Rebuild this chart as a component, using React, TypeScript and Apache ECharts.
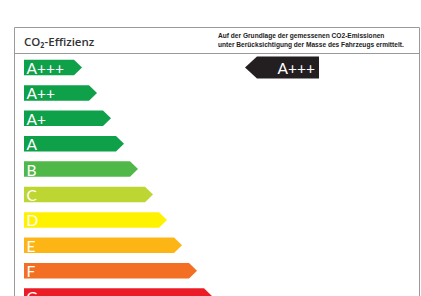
import React, { useEffect, useRef } from "react";
import * as echarts from "echarts";

const classes = ["A+++", "A++", "A+", "A", "B", "C", "D", "E", "F", "G"];
const arrowLengths = [58, 73, 87, 100, 114, 129, 143, 158, 173, 188];
const classColors = [
  "#0fa04a", "#0fa04a", "#0fa04a", "#0fa04a", "#4fb848",
  "#bdd631", "#fff200", "#fdb515", "#f26f23", "#ec1c27",
];
const vehicleClass = "A+++";
const titleText = "CO₂-Effizienz";
const noteLines = [
  "Auf der Grundlage der gemessenen CO2-Emissionen",
  "unter Berücksichtigung der Masse des Fahrzeugs ermittelt.",
];

export default function App() {
  const ref = useRef<HTMLDivElement>(null);
  useEffect(() => {
    if (!ref.current) return;
    const chart = echarts.init(ref.current, null, { renderer: "svg" });
    const barH = 15.5;
    const head = 8;
    chart.setOption({
      animation: false,
      backgroundColor: "#ffffff",
      grid: { left: 24, top: 54.8, width: 397, height: 254 },
      xAxis: { type: "value", min: 0, max: 397, show: false },
      yAxis: { type: "category", data: classes, inverse: true, show: false },
      graphic: [
        {
          type: "rect",
          shape: { x: 14.5, y: 27.5, width: 405, height: 300 },
          style: { fill: "none", stroke: "#9a9a9a", lineWidth: 1 },
          silent: true,
        },
        {
          type: "line",
          shape: { x1: 14.5, y1: 53.5, x2: 420, y2: 53.5 },
          style: { stroke: "#9a9a9a", lineWidth: 1 },
        },
        {
          type: "text",
          x: 24,
          y: 41.5,
          style: {
            text: titleText,
            fill: "#333333",
            font: "600 11.5px 'Open Sans'",
            verticalAlign: "middle",
          },
        },
        {
          type: "text",
          x: 218,
          y: 35,
          style: {
            text: noteLines[0],
            fill: "#222222",
            font: "600 6.6px 'Liberation Sans'",
            verticalAlign: "middle",
          },
        },
        {
          type: "text",
          x: 218,
          y: 44,
          style: {
            text: noteLines[1],
            fill: "#222222",
            font: "600 6.6px 'Liberation Sans'",
            verticalAlign: "middle",
          },
        },
      ],
      series: [
        {
          type: "custom",
          data: arrowLengths.map((v, i) => [v, i]),
          renderItem: (params: any, api: any) => {
            const idx = api.value(1);
            const start = api.coord([0, idx]);
            const tip = api.coord([api.value(0), idx]);
            const y = tip[1];
            const x0 = start[0];
            const xt = tip[0];
            return {
              type: "group",
              children: [
                {
                  type: "polygon",
                  shape: {
                    points: [
                      [x0, y - barH / 2],
                      [xt - head, y - barH / 2],
                      [xt, y],
                      [xt - head, y + barH / 2],
                      [x0, y + barH / 2],
                    ],
                  },
                  style: { fill: classColors[params.dataIndex] },
                },
                {
                  type: "text",
                  x: x0 + 2.5,
                  y: y + 0.5,
                  style: {
                    text: classes[params.dataIndex],
                    fill: "#ffffff",
                    font: "15.5px Lato",
                    verticalAlign: "middle",
                  },
                },
              ],
            };
          },
        },
        {
          type: "custom",
          data: [[0, classes.indexOf(vehicleClass)]],
          renderItem: (params: any, api: any) => {
            const idx = api.value(1);
            const c = api.coord([0, idx]);
            const y = c[1];
            const xl = 245;
            const xr = 319;
            const h = 22;
            const hd = 12;
            return {
              type: "group",
              children: [
                {
                  type: "polygon",
                  shape: {
                    points: [
                      [xl, y],
                      [xl + hd, y - h / 2],
                      [xr, y - h / 2],
                      [xr, y + h / 2],
                      [xl + hd, y + h / 2],
                    ],
                  },
                  style: { fill: "#231f20" },
                },
                {
                  type: "text",
                  x: xr - 4,
                  y: y + 0.5,
                  style: {
                    text: vehicleClass,
                    fill: "#ffffff",
                    font: "15.5px Lato",
                    align: "right",
                    verticalAlign: "middle",
                  },
                },
              ],
            };
          },
        },
      ],
    });
    return () => chart.dispose();
  }, []);
  return (
    <div
      style={{
        position: "absolute",
        left: 0,
        top: 0,
        width: 421,
        height: 296,
        overflow: "hidden",
      }}
    >
      <div ref={ref} style={{ width: 421, height: 330 }} />
    </div>
  );
}
